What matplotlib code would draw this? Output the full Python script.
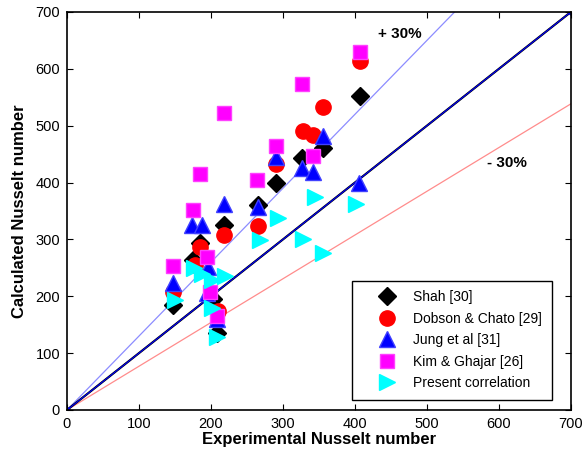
import matplotlib.pyplot as plt
import numpy as np

plt.rcParams['font.family'] = ['Liberation Sans', 'DejaVu Sans']

# experimental vs calculated Nusselt numbers for each correlation
shah_x = [147, 175, 185, 203, 208, 218, 266, 291, 326, 356, 407]
shah_y = [185, 264, 293, 195, 135, 325, 360, 399, 443, 460, 552]

dobson_x = [147, 178, 185, 210, 218, 266, 291, 328, 342, 356, 407]
dobson_y = [208, 255, 287, 174, 307, 323, 432, 491, 484, 533, 614]

jung_x = [147, 173, 187, 196, 194, 209, 218, 266, 291, 326, 342, 355, 405]
jung_y = [223, 325, 325, 251, 206, 160, 363, 357, 445, 425, 419, 481, 399]

kim_x = [147, 175, 185, 194, 199, 208, 218, 264, 291, 327, 342, 407]
kim_y = [254, 352, 415, 269, 208, 165, 522, 404, 464, 573, 446, 630]

present_x = [150, 176, 187, 201, 220, 201, 209, 268, 293, 328, 344, 356, 402]
present_y = [193, 249, 240, 229, 236, 180, 129, 299, 337, 300, 375, 276, 363]

line_x = np.array([0, 700])

fig = plt.figure(figsize=(5.85, 4.59), dpi=100)
ax = fig.add_axes([0.1145, 0.1068, 0.8615, 0.8672])

# reference lines: perfect agreement and +/- 30 % bands
ax.plot(line_x, line_x * 1.3, color='#8c8cff', lw=0.9, zorder=1)
ax.plot(line_x, line_x / 1.3, color='#ff8c8c', lw=0.9, zorder=1)
ax.plot(line_x, line_x, color='black', lw=1.6, zorder=1)
ax.plot(line_x, line_x, color='#0000ff', lw=0.8, marker='.', ms=7, zorder=1)

ax.plot(shah_x, shah_y, ls='none', marker='D', ms=9, color='black',
        label='Shah [30]', zorder=3)
ax.plot(dobson_x, dobson_y, ls='none', marker='o', ms=11, color='#ff0000',
        label='Dobson & Chato [29]', zorder=3)
ax.plot(jung_x, jung_y, ls='none', marker='^', ms=12, color='#0000ff',
        mec='#4040ff', label='Jung et al [31]', zorder=3)
ax.plot(kim_x, kim_y, ls='none', marker='s', ms=9.5, color='#ff00ff',
        mec='#ff40ff', label='Kim & Ghajar [26]', zorder=3)
ax.plot(present_x, present_y, ls='none', marker='>', ms=12, color='#00ffff',
        label='Present correlation', zorder=3)

ax.text(432, 655, '+ 30%', fontsize=11, fontweight='bold')
ax.text(583, 428, '- 30%', fontsize=11, fontweight='bold')

ax.set_xlim(0, 700)
ax.set_ylim(0, 700)
ax.set_xticks(range(0, 701, 100))
ax.set_yticks(range(0, 701, 100))
ax.tick_params(direction='in', top=True, right=True, labelsize=10.5,
               length=4, pad=5)
for s in ax.spines.values():
    s.set_linewidth(1.2)

ax.set_xlabel('Experimental Nusselt number', fontsize=12, fontweight='bold',
              labelpad=1)
ax.set_ylabel('Calculated Nusselt number', fontsize=12, fontweight='bold',
              labelpad=6)

leg = ax.legend(loc='lower right', bbox_to_anchor=(0.962, 0.025),
                borderaxespad=0, fontsize=10, fancybox=False,
                edgecolor='black', framealpha=1, handletextpad=0.05,
                labelspacing=0.54, borderpad=0.7, handlelength=3.64)
leg.get_frame().set_linewidth(1.0)

fig.savefig('out.png', dpi=100)
